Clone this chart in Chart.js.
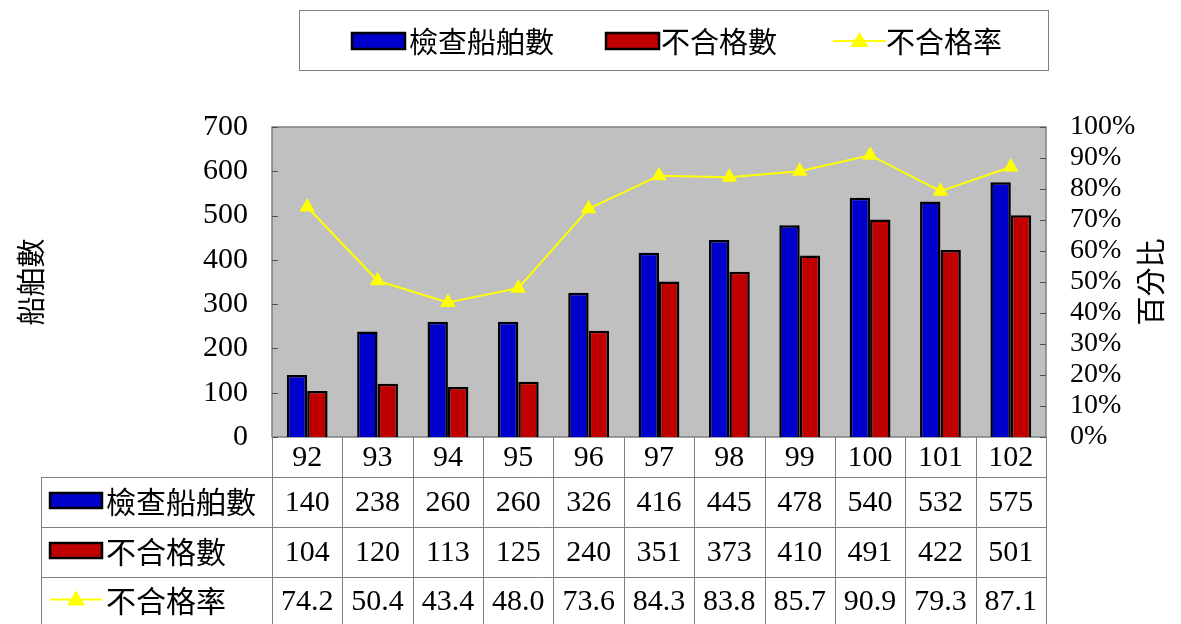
<!DOCTYPE html>
<html>
<head>
<meta charset="utf-8">
<script src="https://cdn.jsdelivr.net/npm/chart.js@4.4.0/dist/chart.umd.min.js"></script>
<style>
  html, body { margin: 0; padding: 0; background: #fff; }
  #wrap { width: 1181px; height: 624px; }
</style>
</head>
<body>
<div id="wrap"><canvas id="shipChart" width="1181" height="624"></canvas></div>
<script>
// data
const years = ['92', '93', '94', '95', '96', '97', '98', '99', '100', '101', '102'];
const inspected = [140, 238, 260, 260, 326, 416, 445, 478, 540, 532, 575];
const failed = [104, 120, 113, 125, 240, 351, 373, 410, 491, 422, 501];
const failRate = [74.2, 50.4, 43.4, 48.0, 73.6, 84.3, 83.8, 85.7, 90.9, 79.3, 87.1];

const seriesNames = ['檢查船舶數', '不合格數', '不合格率'];
const leftTitle = '船舶數';
const rightTitle = '百分比';

const BLUE = '#0000cc';
const RED = '#c00000';
const YELLOW = '#ffff00';
const NUM_FONT = "'Liberation Serif', 'Times New Roman', serif";
const CJK_FONT = "'Noto Sans CJK TC', 'Noto Sans CJK SC', sans-serif";

function drawSwatch(ctx, kind, x, y, w, h) {
    ctx.save();
    if (kind === 'line') {
        ctx.strokeStyle = YELLOW;
        ctx.lineWidth = 2;
        ctx.beginPath();
        ctx.moveTo(x, y + h / 2);
        ctx.lineTo(x + w, y + h / 2);
        ctx.stroke();
        ctx.fillStyle = YELLOW;
        const cx = x + w / 2, cy = y + h / 2;
        ctx.beginPath();
        ctx.moveTo(cx, cy - 9);
        ctx.lineTo(cx + 9, cy + 6);
        ctx.lineTo(cx - 9, cy + 6);
        ctx.closePath();
        ctx.fill();
    } else {
        ctx.fillStyle = kind === 'blue' ? BLUE : RED;
        ctx.fillRect(x, y, w, h);
        ctx.strokeStyle = '#000';
        ctx.lineWidth = 2.5;
        ctx.strokeRect(x, y, w, h);
    }
    ctx.restore();
}

const decor = {
    id: 'decor',
    beforeDraw(chart) {
        const { ctx, chartArea: a } = chart;
        ctx.save();
        ctx.fillStyle = '#c0c0c0';
        ctx.fillRect(a.left, a.top, a.right - a.left, a.bottom - a.top);
        ctx.strokeStyle = '#808080';
        ctx.lineWidth = 1.5;
        ctx.strokeRect(a.left, a.top, a.right - a.left, a.bottom - a.top);
        // small inward tick marks
        ctx.strokeStyle = '#505050';
        ctx.lineWidth = 1;
        const y = chart.scales.y, y1 = chart.scales.y1;
        y.ticks.forEach(t => {
            const py = Math.round(y.getPixelForValue(t.value)) + 0.5;
            ctx.beginPath(); ctx.moveTo(a.left, py); ctx.lineTo(a.left + 6, py); ctx.stroke();
        });
        y1.ticks.forEach(t => {
            const py = Math.round(y1.getPixelForValue(t.value)) + 0.5;
            ctx.beginPath(); ctx.moveTo(a.right - 6, py); ctx.lineTo(a.right, py); ctx.stroke();
        });
        ctx.restore();
    },
    afterDraw(chart) {
        const { ctx, chartArea: a } = chart;
        const x = chart.scales.x;
        const H = chart.height;
        ctx.save();

        // top legend box
        ctx.strokeStyle = '#808080';
        ctx.lineWidth = 1;
        ctx.strokeRect(299.5, 10.5, 749, 60);
        ctx.font = '29px ' + CJK_FONT;
        ctx.fillStyle = '#000';
        ctx.textBaseline = 'middle';
        ctx.textAlign = 'left';
        const legendItems = [
            { kind: 'blue', sx: 352, tx: 409 },
            { kind: 'red', sx: 606, tx: 661 },
            { kind: 'line', sx: 833, tx: 886 }
        ];
        legendItems.forEach((it, i) => {
            drawSwatch(ctx, it.kind, it.sx, 33, 53, 16);
            ctx.fillText(seriesNames[i], it.tx, 42);
        });

        // right axis title, reading bottom to top
        ctx.save();
        ctx.translate(1151, (a.top + a.bottom) / 2);
        ctx.rotate(-Math.PI / 2);
        ctx.textAlign = 'center';
        ctx.textBaseline = 'middle';
        ctx.font = '29px ' + CJK_FONT;
        ctx.fillText(rightTitle, 0, 0);
        ctx.restore();

        // data table
        const step = x.getPixelForValue(1) - x.getPixelForValue(0);
        const rowLines = [477, 527, 577];
        ctx.strokeStyle = '#808080';
        ctx.lineWidth = 1;
        rowLines.forEach(ry => {
            ctx.beginPath(); ctx.moveTo(41, ry + 0.5); ctx.lineTo(a.right, ry + 0.5); ctx.stroke();
        });
        ctx.beginPath(); ctx.moveTo(41.5, rowLines[0]); ctx.lineTo(41.5, H); ctx.stroke();
        for (let i = 0; i <= years.length; i++) {
            const bx = Math.round(x.getPixelForValue(0) - step / 2 + i * step) + 0.5;
            ctx.beginPath(); ctx.moveTo(bx, a.bottom); ctx.lineTo(bx, H); ctx.stroke();
        }

        const rows = [
            { kind: 'blue', vals: inspected.map(v => String(v)), cy: 502 },
            { kind: 'red', vals: failed.map(v => String(v)), cy: 552 },
            { kind: 'line', vals: failRate.map(v => v.toFixed(1)), cy: 601 }
        ];
        rows.forEach((r, i) => {
            drawSwatch(ctx, r.kind, 50, r.cy - 9, 52, 15);
            ctx.font = '30px ' + CJK_FONT;
            ctx.textAlign = 'left';
            ctx.textBaseline = 'middle';
            ctx.fillStyle = '#000';
            ctx.fillText(seriesNames[i], 106, r.cy);
            ctx.font = '30px ' + NUM_FONT;
            ctx.textAlign = 'center';
            r.vals.forEach((v, j) => {
                ctx.fillText(v, x.getPixelForValue(j), r.cy + 1);
            });
        });
        ctx.restore();
    }
};

const ctx = document.getElementById('shipChart').getContext('2d');
const chart = new Chart(ctx, {
    type: 'bar',
    data: {
        labels: years,
        datasets: [
            {
                type: 'line', label: seriesNames[2], data: failRate, yAxisID: 'y1', order: 0,
                borderColor: YELLOW, backgroundColor: YELLOW, borderWidth: 2,
                pointStyle: 'triangle', pointRadius: 9, pointBorderWidth: 0, tension: 0
            },
            {
                label: seriesNames[0], data: inspected, yAxisID: 'y', order: 1,
                backgroundColor: BLUE, borderColor: '#000', borderWidth: 2.5,
                barPercentage: 1, categoryPercentage: 0.58
            },
            {
                label: seriesNames[1], data: failed, yAxisID: 'y', order: 1,
                backgroundColor: RED, borderColor: '#000', borderWidth: 2.5,
                barPercentage: 1, categoryPercentage: 0.58
            }
        ]
    },
    options: {
        responsive: false,
        animation: false,
        devicePixelRatio: 1,
        layout: { padding: { left: 0, right: 0, top: 127, bottom: 0 } },
        plugins: { legend: { display: false }, tooltip: { enabled: false } },
        scales: {
            x: {
                grid: { display: false, drawTicks: false },
                border: { display: false },
                ticks: { font: { family: NUM_FONT, size: 30 }, color: '#000', padding: 3, maxRotation: 0, autoSkip: false },
                afterFit(s) { s.height = 187; }
            },
            y: {
                position: 'left', min: 0, max: 700,
                grid: { display: false, drawTicks: false },
                border: { display: false },
                ticks: { stepSize: 100, font: { family: NUM_FONT, size: 30, lineHeight: 1 }, color: '#000', padding: 24, autoSkip: false },
                title: { display: true, text: leftTitle, font: { family: CJK_FONT, size: 29 }, color: '#000', padding: { top: 14, bottom: 0 } },
                afterFit(s) { s.width = 272; }
            },
            y1: {
                position: 'right', min: 0, max: 100,
                grid: { display: false, drawTicks: false },
                border: { display: false },
                ticks: {
                    stepSize: 10, font: { family: NUM_FONT, size: 28, lineHeight: 1 }, color: '#000', padding: 24, autoSkip: false,
                    callback: v => v + '%'
                },
                afterFit(s) { s.width = 135; }
            }
        }
    },
    plugins: [decor]
});
</script>
</body>
</html>
